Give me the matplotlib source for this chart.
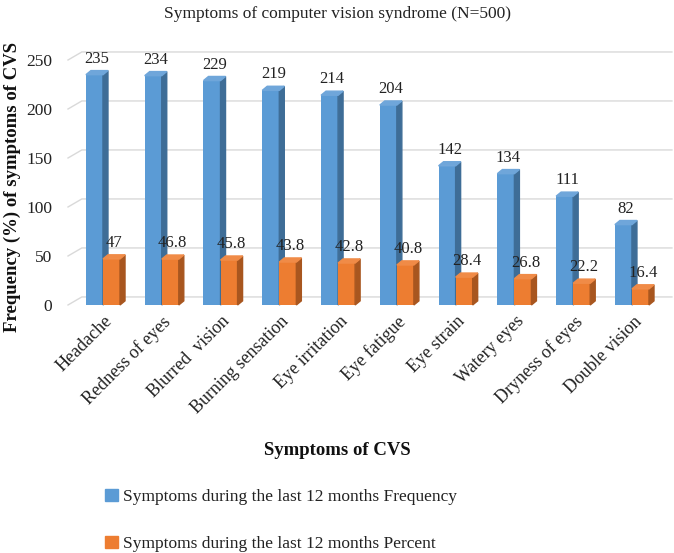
import numpy as np
import matplotlib.pyplot as plt
from matplotlib.patches import Polygon, Patch

symptoms = ["Headache", "Redness of eyes", "Blurred  vision", "Burning sensation",
            "Eye irritation", "Eye fatigue", "Eye strain", "Watery eyes",
            "Dryness of eyes", "Double vision"]
frequency = [235, 234, 229, 219, 214, 204, 142, 134, 111, 82]
percent = [47, 46.8, 45.8, 43.8, 42.8, 40.8, 28.4, 26.8, 22.2, 16.4]
yticks = [0, 50, 100, 150, 200, 250]

plt.rcParams['font.family'] = ['Liberation Serif', 'DejaVu Serif']

blue, blue_side, blue_top = "#5B9BD5", "#3E6D97", "#6FA6DA"
orange, orange_side, orange_top = "#ED7D31", "#A8561F", "#F08B47"

fig = plt.figure(figsize=(6.74, 5.53), dpi=100)
ax = fig.add_axes([0.1009, 0.4485, 0.896, 0.443])
ax.set_xlim(-0.595, 9.68)
ax.set_ylim(0, 250)

w = 0.29       # bar width in category units
dx = 0.085     # depth offset (x)
dy = 4.2       # depth offset (y, in value units)
back = 8.2     # back wall shift

# gridlines on the back wall with the slanted floor/side part
for v in yticks:
    ax.plot([-0.595, -0.36, 9.68], [v, v + back, v + back], color="#D9D9D9",
            lw=1.0, zorder=0, clip_on=False)


def bar3d(x, h, c_front, c_side, c_top):
    ax.bar(x, h, width=w, align='edge', color=c_front, zorder=2)
    side = [(x + w, 0), (x + w + dx, dy), (x + w + dx, h + dy), (x + w, h)]
    top = [(x, h), (x + dx, h + dy), (x + w + dx, h + dy), (x + w, h)]
    ax.add_patch(Polygon(side, closed=True, color=c_side, zorder=2, clip_on=False))
    ax.add_patch(Polygon(top, closed=True, color=c_top, zorder=2, clip_on=False))


for i, (f, p) in enumerate(zip(frequency, percent)):
    bar3d(i - w, f, blue, blue_side, blue_top)
    bar3d(i, p, orange, orange_side, orange_top)
    ax.text(i - w / 2 + dx / 2, f + dy + 4, str(f), ha='center', va='bottom',
            fontsize=12, color="#222222", zorder=3, clip_on=False)
    ax.text(i + w / 2 + dx / 2, p + dy + 4, f"{p:g}", ha='center', va='bottom',
            fontsize=12, color="#222222", zorder=3)

ax.set_yticks(yticks)
ax.set_yticklabels([str(v) for v in yticks], fontsize=12.5, color="#222222")
ax.tick_params(axis='y', length=0, pad=11.5)
ax.set_xticks([])
for s in ax.spines.values():
    s.set_visible(False)

for i, name in enumerate(symptoms):
    ax.text(i + 0.22, -8, name, rotation=45, ha='right', va='top',
            fontsize=13, color="#222222", clip_on=False)

fig.text(0.5, 0.975, "Symptoms of computer vision syndrome (N=500)", ha='center',
         va='center', fontsize=12.5, color="#222222")
fig.text(0.5, 0.185, "Symptoms of CVS", ha='center', va='center',
         fontsize=13.5, fontweight='bold', color="#111111")
fig.text(0.018, 0.662, "Frequency (%) of symptoms of CVS", rotation=90, ha='center',
         va='center', fontsize=13.5, fontweight='bold', color="#111111")

handles = [Patch(color=blue), Patch(color=orange)]
labels = ["Symptoms during the last 12 months Frequency",
          "Symptoms during the last 12 months Percent"]
fig.legend(handles, labels, loc='upper left', bbox_to_anchor=(0.146, 0.128),
           frameon=False, fontsize=12.5, handlelength=0.7, handleheight=0.7,
           handletextpad=0.3, labelspacing=1.75, borderaxespad=0,
           labelcolor="#222222")

fig.savefig("out.png", dpi=100)
